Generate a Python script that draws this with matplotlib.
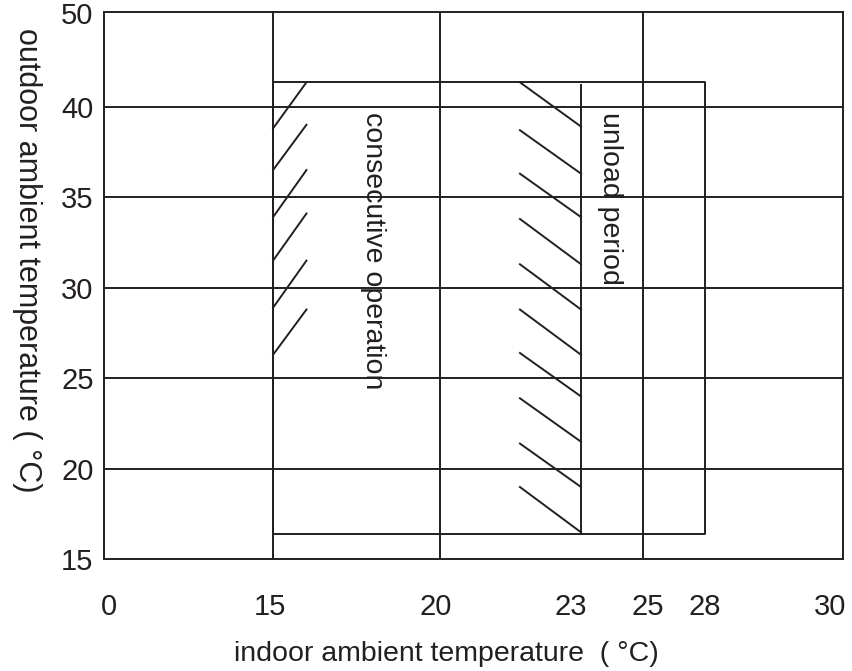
import numpy as np
import matplotlib.pyplot as plt
from matplotlib.transforms import ScaledTranslation

plt.rcParams['font.family'] = ['Liberation Sans', 'DejaVu Sans']

# ---- data ----
x_ticks = [0, 15, 20, 23, 25, 28, 30]
y_ticks = [15, 20, 25, 30, 35, 40, 50]
x_grid = [15, 20, 25]
y_grid = [20, 25, 30, 35, 40]

# operating envelope (indoor x outdoor, deg C)
indoor_min, indoor_max = 15, 28
outdoor_min, outdoor_max = 16.4, 42.6
unload_start = 23
unload_top = 42.3

# "/" hatches on the left edge of the envelope
left_hatch_x = [15, 16]
left_hatch_bottom = [38.8, 36.5, 33.9, 31.5, 28.9, 26.3]
left_hatch_top = [42.6, 39.0, 36.5, 34.1, 31.5, 28.8]

# "\" hatches left of the unload line
right_hatch_x = [21.7, 23]
right_hatch_top = [42.6, 38.7, 36.3, 33.8, 31.3, 28.8, 26.4, 23.9, 21.4, 19.0]
right_hatch_bottom = [38.9, 36.3, 33.9, 31.3, 28.8, 26.3, 24.0, 21.5, 19.0, 16.5]

# ---- the axes are drawn schematically (not to scale) ----
x_knots = [-0.46, 0, 15, 20, 23, 25, 28, 30, 30.21]
x_place = [0, 5, 169, 336, 477, 539, 601, 726, 739]
y_knots = [15, 40, 50, 50.14]
y_place = [0, 452.8, 546.5, 547.8]


def fx(t):
    return np.interp(t, x_knots, x_place)


def ix(p):
    return np.interp(p, x_place, x_knots)


def fy(t):
    return np.interp(t, y_knots, y_place)


def iy(p):
    return np.interp(p, y_place, y_knots)


ink = '#231f20'
lw = 1.4

fig = plt.figure(figsize=(8.52, 6.71), dpi=100)
ax = fig.add_axes([0.1221, 0.1662, 0.8674, 0.8164])
ax.set_xscale('function', functions=(fx, ix))
ax.set_yscale('function', functions=(fy, iy))
ax.set_xlim(x_knots[0], x_knots[-1])
ax.set_ylim(y_knots[0], y_knots[-1])

for s in ax.spines.values():
    s.set_linewidth(lw)
    s.set_color(ink)

for g in x_grid:
    ax.axvline(g, color=ink, lw=lw)
for g in y_grid:
    ax.axhline(g, color=ink, lw=lw)

# envelope + unload boundary
ax.plot([indoor_min, indoor_max, indoor_max, indoor_min, indoor_min],
        [outdoor_min, outdoor_min, outdoor_max, outdoor_max, outdoor_min],
        color=ink, lw=lw)
ax.plot([unload_start, unload_start], [outdoor_min, unload_top], color=ink, lw=lw)

for b, t in zip(left_hatch_bottom, left_hatch_top):
    ax.plot(left_hatch_x, [b, t], color=ink, lw=lw)
for t, b in zip(right_hatch_top, right_hatch_bottom):
    ax.plot(right_hatch_x, [t, b], color=ink, lw=lw)

ax.text(18.0, 39.7, 'consecutive operation', rotation=-90, ha='center', va='top',
        fontsize=20.5, color=ink)
ax.text(23.94, 39.7, 'unload period', rotation=-90, ha='center', va='top',
        fontsize=20.5, color=ink)

ax.set_xticks(x_ticks)
ax.set_xticklabels([str(v) for v in x_ticks])
ax.set_yticks(y_ticks)
ax.set_yticklabels([str(v) for v in y_ticks])
ax.tick_params(axis='both', length=0, labelsize=21, colors=ink)
ax.tick_params(axis='x', pad=24)
ax.tick_params(axis='y', pad=7.5)

# the printed labels sit a little off their grid lines
label_shift_px = [0, -3, -4, -10, 5, 0, 0]
for lab, dx in zip(ax.get_xticklabels(), label_shift_px):
    lab.set_transform(lab.get_transform() + ScaledTranslation(dx / fig.dpi, 0, fig.dpi_scale_trans))

ax.set_xlabel('indoor ambient temperature  ( °C)', fontsize=20.5, color=ink)
ax.set_ylabel('outdoor ambient temperature ( °C)', fontsize=22, color=ink,
              rotation=-90, rotation_mode='default', ha='center', va='center')
ax.xaxis.set_label_coords(0.463, -0.1488)
ax.yaxis.set_label_coords(-0.1042, 0.5467)

plt.savefig('out.png', dpi=100)
